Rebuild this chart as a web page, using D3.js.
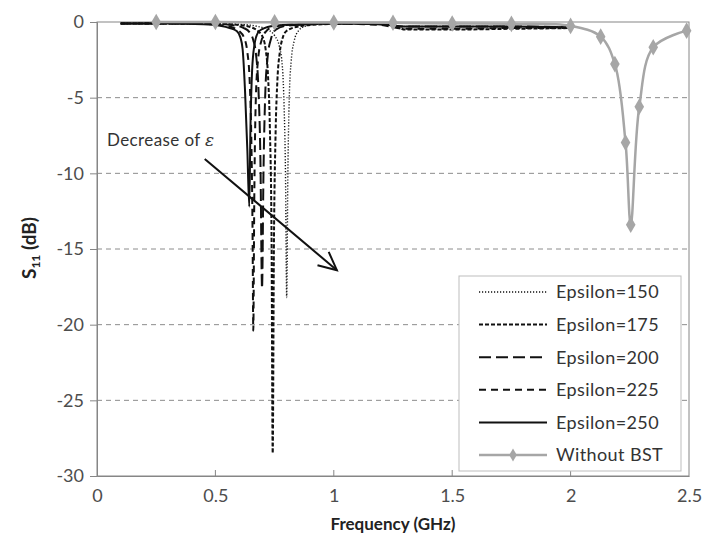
<!DOCTYPE html>
<html><head><meta charset="utf-8">
<script src="https://cdn.jsdelivr.net/npm/d3@7"></script>
<style>body{margin:0;background:#fff}svg{display:block}</style>
</head><body>
<svg id="c" width="710" height="549"></svg>
<script>
// ---- data ----
const xTicks = [0, 0.5, 1, 1.5, 2, 2.5];
const yTicks = [0, -5, -10, -15, -20, -25, -30];

const f150 = [0.1,0.3,0.5,0.6,0.68,0.72,0.75,0.77,0.783,0.79,0.796,0.801,0.806,0.812,0.82,0.832,0.85,0.875,0.92,1.0,1.2,1.3,1.5,1.75,2.0];
const v150 = [-0.1,-0.1,-0.1,-0.15,-0.3,-0.5,-0.9,-1.6,-3.0,-5.5,-10,-18.2,-10,-5.0,-2.6,-1.3,-0.6,-0.3,-0.15,-0.1,-0.15,-0.3,-0.3,-0.3,-0.35];

const f175 = [0.1,0.3,0.5,0.6,0.65,0.68,0.7,0.712,0.722,0.73,0.737,0.742,0.747,0.754,0.762,0.772,0.785,0.8,0.85,0.95,1.1,1.25,1.3,1.5,1.75,2.0];
const v175 = [-0.1,-0.1,-0.1,-0.2,-0.35,-0.6,-1.0,-1.8,-3.5,-7,-14,-28.5,-15,-7.5,-3.8,-2.0,-1.0,-0.6,-0.3,-0.15,-0.1,-0.2,-0.5,-0.5,-0.45,-0.4];

const f200 = [0.1,0.3,0.5,0.57,0.62,0.645,0.66,0.672,0.682,0.69,0.697,0.703,0.71,0.72,0.735,0.755,0.8,0.9,1.0,1.2,1.3,1.5,1.75,2.0];
const v200 = [-0.1,-0.1,-0.12,-0.2,-0.4,-0.7,-1.2,-2.2,-4.5,-9,-17.6,-10,-5,-2.4,-1.1,-0.5,-0.25,-0.15,-0.1,-0.15,-0.3,-0.3,-0.3,-0.35];

const f225 = [0.1,0.3,0.45,0.52,0.57,0.6,0.62,0.635,0.645,0.652,0.657,0.66,0.664,0.67,0.68,0.695,0.715,0.75,0.85,1.0,1.2,1.3,1.5,1.75,2.0];
const v225 = [-0.1,-0.1,-0.12,-0.2,-0.35,-0.6,-1.0,-2.0,-4.0,-8.0,-14,-20.4,-12,-5.5,-2.5,-1.2,-0.6,-0.3,-0.15,-0.1,-0.2,-0.45,-0.45,-0.4,-0.4];

const f250 = [0.1,0.3,0.45,0.52,0.56,0.59,0.605,0.615,0.625,0.635,0.643,0.648,0.655,0.665,0.68,0.7,0.75,0.85,1.0,1.2,1.3,1.5,1.75,2.0];
const v250 = [-0.1,-0.1,-0.15,-0.25,-0.4,-0.6,-1.0,-1.8,-4.5,-8.5,-12.2,-7.0,-3.2,-1.5,-0.7,-0.45,-0.25,-0.15,-0.1,-0.15,-0.3,-0.3,-0.3,-0.35];

const fBST = [0.25,0.5,0.75,1.0,1.25,1.5,1.75,2.0,2.127,2.187,2.232,2.254,2.29,2.349,2.49];
const vBST = [0,0,-0.02,-0.03,-0.05,-0.1,-0.12,-0.26,-0.97,-2.78,-7.97,-13.4,-5.6,-1.67,-0.57];

const seriesNames = ["Epsilon=150","Epsilon=175","Epsilon=200","Epsilon=225","Epsilon=250","Without BST"];
const annText = "Decrease of ";
const arrowFrom = [0.455, -9.05];
const arrowTo = [1.013, -16.4];

// ---- layout ----
const L = 97, R = 689, T = 22, B = 476;
const x = d3.scaleLinear().domain([0, 2.5]).range([L, R]);
const y = d3.scaleLinear().domain([-30, 0]).range([B, T]);
const svg = d3.select("#c");
const font = "Lato, 'Open Sans', sans-serif";

// gridlines
svg.append("g").selectAll("line").data(yTicks.filter(d => d !== 0 && d !== -30)).join("line")
  .attr("x1", L).attr("x2", R).attr("y1", d => y(d)).attr("y2", d => y(d))
  .attr("stroke", "#8c8c8c").attr("stroke-width", 1).attr("stroke-dasharray", "5,4");

// frame
svg.append("rect").attr("x", L).attr("y", T).attr("width", R - L).attr("height", B - T)
  .attr("fill", "none").attr("stroke", "#868686").attr("stroke-width", 1);

// axes
const xa = svg.append("g").attr("transform", `translate(0,${B})`)
  .call(d3.axisBottom(x).tickValues(xTicks).tickSize(0).tickPadding(13).tickFormat(d => String(d)));
xa.select(".domain").attr("stroke", "#868686");
xa.selectAll("text").attr("font-family", font).attr("font-size", 18).attr("fill", "#4d4d4d");
svg.append("g").selectAll("line").data(xTicks.slice(1, -1)).join("line")
  .attr("x1", d => x(d)).attr("x2", d => x(d)).attr("y1", B).attr("y2", B - 6)
  .attr("stroke", "#868686");

const ya = svg.append("g").attr("transform", `translate(${L},0)`)
  .call(d3.axisLeft(y).tickValues(yTicks).tickSize(7).tickPadding(6).tickFormat(d => String(d)));
ya.select(".domain").attr("stroke", "#868686");
ya.selectAll(".tick line").attr("stroke", "#868686");
ya.selectAll("text").attr("font-family", font).attr("font-size", 18).attr("fill", "#4d4d4d");

// axis titles
svg.append("text").attr("x", (L + R) / 2).attr("y", 530).attr("text-anchor", "middle")
  .attr("font-family", font).attr("font-weight", "bold").attr("font-size", 17).attr("fill", "#222")
  .text("Frequency (GHz)");
const yt = svg.append("text").attr("transform", "translate(36,248) rotate(-90)").attr("text-anchor", "middle")
  .attr("font-family", font).attr("font-weight", "bold").attr("font-size", 19).attr("fill", "#222");
yt.append("tspan").text("S");
yt.append("tspan").attr("font-size", 12).attr("dy", 4).text("11");
yt.append("tspan").attr("dy", -4).text(" (dB)");

// series
const styles = [
  {dash: "1.2,1.8", w: 1.4},
  {dash: "4,2", w: 2},
  {dash: "12,5", w: 2},
  {dash: "7,5", w: 2},
  {dash: null, w: 2}
];
const blackSeries = [[f150, v150], [f175, v175], [f200, v200], [f225, v225], [f250, v250]];
const line = d3.line().x(d => x(d[0])).y(d => y(d[1])).curve(d3.curveMonotoneX);
const plot = svg.append("g");
blackSeries.forEach((s, i) => {
  const pts = s[0].map((f, k) => [f, s[1][k]]);
  plot.append("path").datum(pts).attr("d", line).attr("fill", "none")
    .attr("stroke", "#111").attr("stroke-width", styles[i].w)
    .attr("stroke-dasharray", styles[i].dash);
});
const bst = fBST.map((f, k) => [f, vBST[k]]);
const lineB = d3.line().x(d => x(d[0])).y(d => y(d[1])).curve(d3.curveCatmullRom.alpha(0.5));
plot.append("path").datum(bst).attr("d", lineB).attr("fill", "none")
  .attr("stroke", "#a6a6a6").attr("stroke-width", 2.5);
const diamond = d3.symbol().type(d3.symbolDiamond).size(80);
plot.selectAll(".m").data(bst).join("path").attr("class", "m")
  .attr("transform", d => `translate(${x(d[0])},${y(d[1])})`).attr("d", diamond).attr("fill", "#a6a6a6");

// annotation
const ann = svg.append("text").attr("x", 107).attr("y", 146).attr("font-family", font)
  .attr("font-size", 17).attr("letter-spacing", 0.4).attr("fill", "#333");
ann.append("tspan").text(annText);
ann.append("tspan").attr("font-family", "'DejaVu Serif', serif").attr("font-style", "italic").text("ε");
const ax1 = x(arrowFrom[0]), ay1 = y(arrowFrom[1]), ax2 = x(arrowTo[0]), ay2 = y(arrowTo[1]);
svg.append("line").attr("x1", ax1).attr("y1", ay1).attr("x2", ax2).attr("y2", ay2)
  .attr("stroke", "#111").attr("stroke-width", 2);
const ang = Math.atan2(ay2 - ay1, ax2 - ax1), hl = 20, ha = 0.45;
svg.append("path").attr("d", `M${ax2 - hl*Math.cos(ang - ha)},${ay2 - hl*Math.sin(ang - ha)}L${ax2},${ay2}L${ax2 - hl*Math.cos(ang + ha)},${ay2 - hl*Math.sin(ang + ha)}`)
  .attr("fill", "none").attr("stroke", "#111").attr("stroke-width", 2);

// legend
const lg = svg.append("g");
lg.append("rect").attr("x", 459).attr("y", 276).attr("width", 222).attr("height", 195)
  .attr("fill", "#fff").attr("stroke", "#bdbdbd").attr("stroke-width", 1);
const rowY = i => 292 + i * 32.6;
seriesNames.forEach((name, i) => {
  const yy = rowY(i);
  const l = lg.append("line").attr("x1", 479).attr("x2", 547).attr("y1", yy).attr("y2", yy);
  if (i < 5) {
    l.attr("stroke", "#111").attr("stroke-width", styles[i].w).attr("stroke-dasharray", styles[i].dash);
  } else {
    l.attr("stroke", "#a6a6a6").attr("stroke-width", 2.5);
    lg.append("path").attr("transform", `translate(513,${yy})`).attr("d", d3.symbol().type(d3.symbolDiamond).size(50)).attr("fill", "#a6a6a6");
  }
  lg.append("text").attr("x", 556).attr("y", yy).attr("dy", "0.36em").attr("font-family", font)
    .attr("font-size", 18).attr("letter-spacing", 0.4).attr("fill", "#333").text(name);
});
</script>
</body></html>
